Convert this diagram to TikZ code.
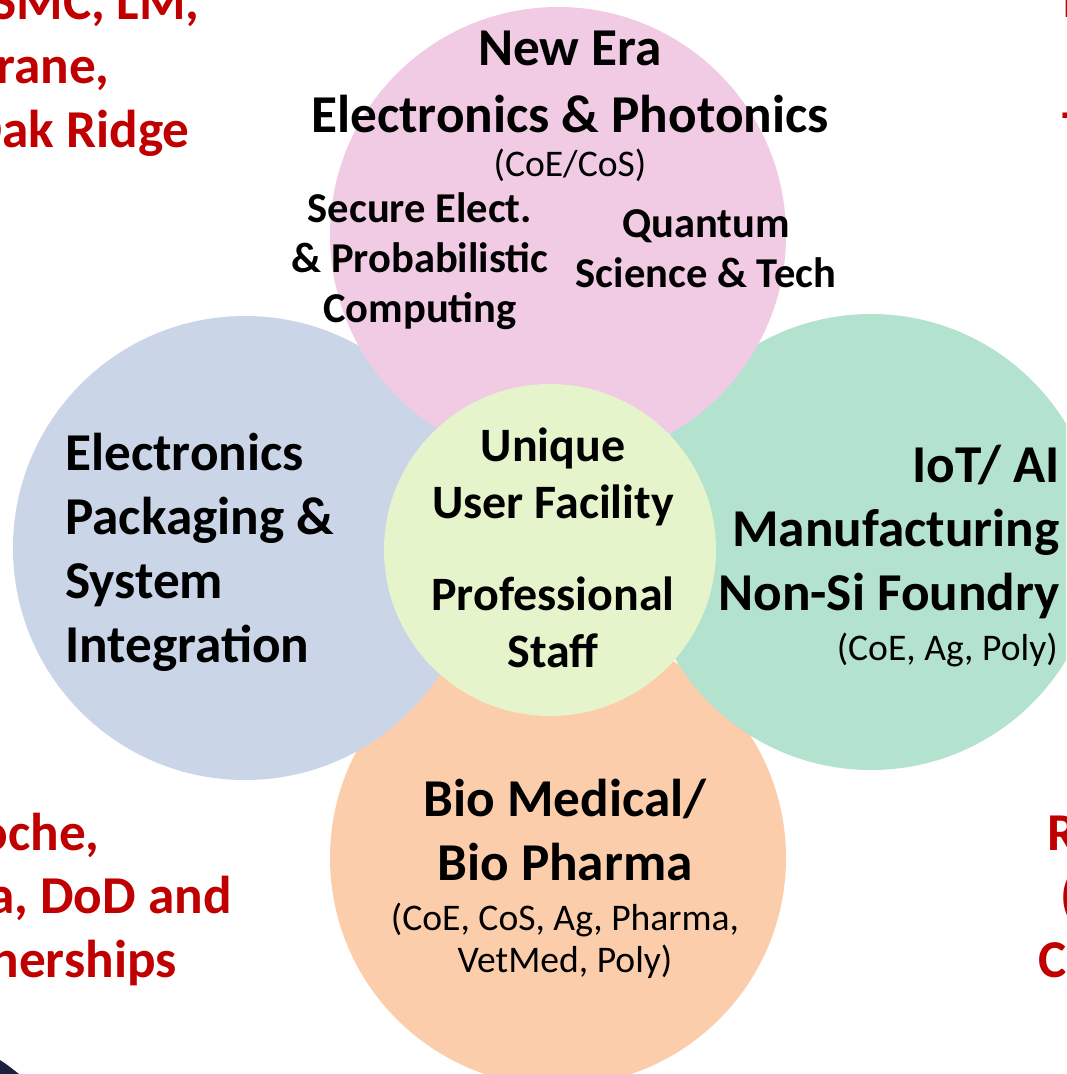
\documentclass[tikz,border=0pt]{standalone}
\usepackage{fontspec}
\setmainfont{Carlito}
\usetikzlibrary{positioning}

\definecolor{erapink}{HTML}{F1CAE4}
\definecolor{packblue}{HTML}{CAD5E7}
\definecolor{iotgreen}{HTML}{B3E2CE}
\definecolor{bioorange}{HTML}{FBCDAB}
\definecolor{corelime}{HTML}{E5F4CB}
\definecolor{partnerred}{HTML}{C00000}
\definecolor{cornernavy}{HTML}{1E2040}

\begin{document}
\begin{tikzpicture}[
		bubble/.style={circle, inner sep=0pt, minimum size=#1},
		bigtxt/.style={inner sep=0pt, align=center, font=\fontsize{30.3}{36.4}\selectfont\bfseries},
		coretxt/.style={inner sep=0pt, align=center, font=\fontsize{27.3}{31.9}\selectfont\bfseries},
		midtxt/.style={inner sep=0pt, align=center, font=\fontsize{24.2}{28.2}\selectfont\bfseries},
		smalltxt/.style={inner sep=0pt, align=center, font=\fontsize{21.4}{23.9}\selectfont},
		redtxt/.style={inner sep=0pt, text=partnerred, font=\fontsize{30.3}{36.4}\selectfont\bfseries},
	]
		\useasboundingbox (0,0) rectangle (21.32,-21.48);
		\fill[white] (0,0) rectangle (21.32,-21.48);
		\clip (0,0) rectangle (21.32,-21.48);

		% petals, bottom one first
		\node[bubble=9.12cm, fill=bioorange] (bio) at (11.16,-17.16) {};
		\node[bubble=9.28cm, fill=packblue] (pack) at (4.90,-10.96) {};
		\node[bubble=9.12cm, fill=iotgreen] (iot) at (17.42,-10.84) {};
		\node[bubble=9.12cm, fill=erapink] (era) at (11.16,-4.70) {};
		\node[bubble=6.64cm, fill=corelime] (core) at (11.00,-11.00) {};

		% new era (base = last line)
		\node[bigtxt, anchor=base] (eratitle) at (11.40,-2.64) {New Era\\[1.5pt]Electronics \& Photonics};
		\node[smalltxt, anchor=base] (erasub) at (11.40,-3.54) {(CoE/CoS)};
		\node[midtxt, anchor=base] (secure) at (8.40,-6.44) {Secure Elect.\\\& Probabilistic\\Computing};
		\node[midtxt, anchor=base] (quantum) at (14.12,-5.74) {Quantum\\Science \& Tech};

		% packaging
		\node[bigtxt, anchor=base west, align=left] (packtitle) at (1.30,-13.24) {Electronics\\Packaging \&\\System\\Integration};

		% iot
		\node[bigtxt, anchor=base east, align=right] (iottitle) at (21.20,-12.20) {IoT/ AI\\Manufacturing\\Non-Si Foundry};
		\node[smalltxt, anchor=base east] (iotsub) at (21.16,-13.20) {(CoE, Ag, Poly)};

		% bio
		\node[bigtxt, anchor=base] (biotitle) at (11.30,-17.60) {Bio Medical/\\Bio Pharma};
		\node[smalltxt, anchor=base] (biosub) at (11.30,-19.44) {(CoE, CoS, Ag, Pharma,\\VetMed, Poly)};

		% centre
		\node[coretxt, anchor=base] (facility) at (11.06,-10.36) {Unique\\User Facility};
		\node[coretxt, anchor=base] (staff) at (11.06,-13.34) {Professional\\Staff};

		% partner lists cut by the frame
		\node[redtxt, anchor=base east] (tl1) at (4.00,-0.40) {SMC, LM,};
		\node[redtxt, anchor=base east] (tl2) at (2.20,-1.66) {rane,};
		\node[redtxt, anchor=base east] (tl3) at (3.80,-2.94) {Oak Ridge};
		\node[redtxt, anchor=base west] (tr1) at (21.24,-0.36) {I};
		\node[redtxt, anchor=base west] (tr3) at (21.24,-2.94) {T};
		\node[redtxt, anchor=base east] (bl1) at (2.00,-17.00) {oche,};
		\node[redtxt, anchor=base east] (bl2) at (4.64,-18.26) {a, DoD and};
		\node[redtxt, anchor=base east] (bl3) at (3.54,-19.54) {nerships};
		\node[redtxt, anchor=base west] (br1) at (20.94,-17.00) {R};
		\node[redtxt, anchor=base west] (br2) at (21.20,-18.26) {(};
		\node[redtxt, anchor=base west] (br3) at (20.76,-19.54) {C};

		\fill[cornernavy] (0,-21.20) .. controls (0.15,-21.30) .. (0.38,-21.48) -- (0,-21.48) -- cycle;
	\end{tikzpicture}
\end{document}
